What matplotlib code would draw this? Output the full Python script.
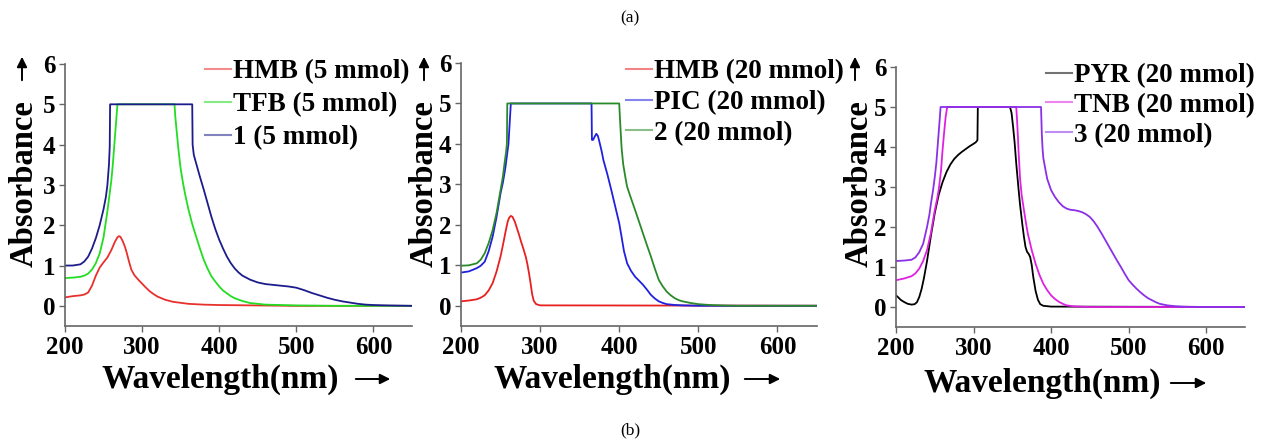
import matplotlib
matplotlib.use("Agg")
import matplotlib.pyplot as plt
from matplotlib.patches import FancyArrowPatch

# ---------------- data ----------------
# Panel 1
wl1_hmb = [200, 210, 220, 225, 230, 235, 240, 245, 250, 255, 260, 265, 268, 270, 272, 275, 278, 280, 283, 286, 290, 295, 300, 305, 310, 315, 320, 330, 340, 360, 380, 400, 450, 500, 650]
a1_hmb = [0.21, 0.24, 0.26, 0.28, 0.33, 0.50, 0.75, 0.95, 1.08, 1.20, 1.38, 1.60, 1.70, 1.73, 1.71, 1.60, 1.45, 1.32, 1.10, 0.90, 0.76, 0.65, 0.55, 0.45, 0.36, 0.29, 0.23, 0.15, 0.10, 0.05, 0.03, 0.02, 0.01, 0.0, 0.0]
wl1_tfb = [200, 210, 220, 225, 230, 235, 240, 245, 250, 255, 258, 260, 262, 264, 266, 268, 342, 343, 345, 347, 350, 353, 356, 360, 365, 370, 375, 380, 385, 390, 395, 400, 405, 410, 415, 420, 430, 440, 450, 460, 480, 500, 550, 650]
a1_tfb = [0.69, 0.70, 0.72, 0.75, 0.80, 0.90, 1.06, 1.30, 1.70, 2.35, 2.80, 3.10, 3.50, 4.00, 4.50, 5.0, 5.0, 4.70, 4.30, 3.90, 3.40, 3.05, 2.75, 2.40, 2.03, 1.72, 1.42, 1.14, 0.92, 0.73, 0.60, 0.48, 0.38, 0.31, 0.24, 0.19, 0.12, 0.07, 0.05, 0.03, 0.02, 0.01, 0.0, 0.0]
wl1_c1 = [200, 210, 220, 225, 230, 235, 240, 245, 250, 253, 255, 257, 258, 258.5, 365, 365.5, 367, 370, 375, 380, 385, 390, 395, 400, 405, 410, 415, 420, 425, 430, 435, 440, 450, 460, 470, 480, 490, 500, 510, 520, 530, 540, 550, 560, 570, 580, 590, 600, 620, 650]
a1_c1 = [1.0, 1.0, 1.03, 1.10, 1.22, 1.42, 1.68, 2.00, 2.40, 2.70, 3.00, 3.50, 3.95, 5.0, 5.0, 4.0, 3.75, 3.54, 3.20, 2.88, 2.54, 2.20, 1.90, 1.64, 1.42, 1.22, 1.06, 0.93, 0.83, 0.75, 0.70, 0.65, 0.58, 0.54, 0.52, 0.50, 0.48, 0.45, 0.39, 0.32, 0.26, 0.20, 0.15, 0.11, 0.08, 0.05, 0.03, 0.02, 0.01, 0.0]

# Panel 2
wl2_hmb = [200, 210, 220, 225, 230, 235, 240, 245, 250, 253, 256, 259, 261, 263, 265, 268, 270, 273, 276, 279, 282, 284, 286, 288, 290, 292, 295, 300, 650]
a2_hmb = [0.11, 0.13, 0.16, 0.20, 0.26, 0.38, 0.56, 0.85, 1.22, 1.50, 1.80, 2.08, 2.18, 2.22, 2.20, 2.08, 1.96, 1.78, 1.58, 1.40, 1.20, 1.02, 0.80, 0.55, 0.28, 0.12, 0.04, 0.01, 0.0]
wl2_pic = [200, 210, 220, 225, 230, 235, 240, 245, 250, 253, 256, 258, 260, 262, 263, 365, 365.5, 367, 369, 371, 373, 375, 378, 380, 385, 390, 395, 400, 403, 406, 410, 415, 420, 425, 430, 435, 440, 445, 450, 455, 460, 470, 480, 500, 650]
a2_pic = [0.82, 0.85, 0.93, 0.99, 1.09, 1.35, 1.71, 2.20, 2.78, 3.05, 3.40, 3.70, 4.00, 4.67, 5.0, 5.0, 4.10, 4.10, 4.18, 4.25, 4.20, 4.05, 3.80, 3.60, 3.25, 2.86, 2.45, 2.04, 1.70, 1.35, 1.05, 0.86, 0.72, 0.62, 0.52, 0.40, 0.27, 0.18, 0.11, 0.07, 0.04, 0.02, 0.01, 0.0, 0.0]
wl2_c2 = [200, 210, 220, 225, 230, 235, 240, 245, 250, 253, 255, 257, 258, 258.5, 400, 401, 403, 405, 408, 410, 415, 420, 425, 430, 435, 440, 445, 450, 455, 460, 465, 470, 475, 480, 490, 500, 510, 520, 535, 550, 650]
a2_c2 = [0.99, 1.0, 1.05, 1.14, 1.30, 1.55, 1.87, 2.30, 2.86, 3.20, 3.52, 3.80, 4.00, 5.0, 5.0, 4.60, 3.90, 3.50, 3.15, 2.94, 2.65, 2.37, 2.08, 1.79, 1.50, 1.22, 0.92, 0.64, 0.48, 0.35, 0.26, 0.19, 0.14, 0.11, 0.07, 0.04, 0.025, 0.015, 0.005, 0.0, 0.0]

# Panel 3
wl3_pyr = [200, 203, 206, 210, 215, 220, 224, 227, 230, 233, 236, 240, 245, 250, 255, 260, 265, 270, 275, 280, 285, 290, 295, 300, 303, 305, 305.5, 347, 349, 351, 353, 355, 358, 360, 363, 365, 367, 369, 371, 373, 375, 377, 380, 383, 386, 390, 400, 650]
a3_pyr = [0.29, 0.24, 0.18, 0.13, 0.08, 0.06, 0.07, 0.12, 0.25, 0.45, 0.72, 1.15, 1.78, 2.35, 2.80, 3.12, 3.37, 3.56, 3.70, 3.80, 3.88, 3.95, 4.02, 4.08, 4.12, 4.17, 5.0, 5.0, 4.85, 4.50, 4.10, 3.60, 2.95, 2.55, 2.05, 1.75, 1.50, 1.38, 1.33, 1.25, 1.05, 0.75, 0.40, 0.18, 0.07, 0.03, 0.01, 0.0]
wl3_tnb = [200, 210, 220, 225, 230, 235, 240, 245, 250, 253, 255, 258, 260, 262, 264, 266, 355, 356, 357, 358, 360, 362, 365, 368, 370, 375, 380, 385, 390, 395, 400, 405, 410, 415, 420, 430, 450, 650]
a3_tnb = [0.67, 0.71, 0.77, 0.84, 0.96, 1.15, 1.42, 1.85, 2.42, 2.70, 2.92, 3.40, 3.92, 4.35, 4.75, 5.0, 5.0, 4.70, 4.33, 3.90, 3.20, 2.80, 2.42, 2.05, 1.83, 1.42, 1.08, 0.80, 0.58, 0.42, 0.29, 0.20, 0.13, 0.08, 0.04, 0.015, 0.0, 0.0]
wl3_c3 = [200, 210, 220, 225, 230, 235, 240, 243, 245, 248, 250, 252, 254, 256, 257.5, 387, 388, 389, 390, 393, 395, 400, 405, 410, 415, 420, 425, 430, 435, 440, 445, 450, 455, 460, 465, 470, 475, 480, 485, 490, 495, 500, 505, 510, 515, 520, 525, 530, 535, 540, 545, 550, 560, 570, 580, 600, 650]
a3_c3 = [1.15, 1.16, 1.18, 1.24, 1.37, 1.58, 2.00, 2.30, 2.58, 2.95, 3.25, 3.60, 4.10, 4.60, 5.0, 5.0, 4.33, 3.95, 3.72, 3.40, 3.20, 2.92, 2.75, 2.62, 2.52, 2.46, 2.43, 2.42, 2.40, 2.37, 2.32, 2.25, 2.14, 2.00, 1.84, 1.67, 1.50, 1.33, 1.16, 1.00, 0.83, 0.67, 0.56, 0.46, 0.37, 0.29, 0.22, 0.17, 0.12, 0.08, 0.06, 0.04, 0.02, 0.01, 0.005, 0.0, 0.0]

labels1 = ["HMB (5 mmol)", "TFB (5 mmol)", "1 (5 mmol)"]
labels2 = ["HMB (20 mmol)", "PIC (20 mmol)", "2 (20 mmol)"]
labels3 = ["PYR (20 mmol)", "TNB (20 mmol)", "3 (20 mmol)"]
xticks = [200, 300, 400, 500, 600]
yticks = [0, 1, 2, 3, 4, 5, 6]

# ---------------- figure ----------------
plt.rcParams["font.family"] = "serif"
plt.rcParams["font.serif"] = ["Liberation Serif", "Times New Roman", "DejaVu Serif"]

W, H = 1265, 443
fig = plt.figure(figsize=(W / 100, H / 100), dpi=100)


def px_rect(l, t, r, b):
    return [l / W, 1 - b / H, (r - l) / W, (b - t) / H]


panels = [
    dict(rect=px_rect(65, 64, 412, 326),
         series=[(wl1_hmb, a1_hmb, "#e8302c"), (wl1_tfb, a1_tfb, "#22dd22"), (wl1_c1, a1_c1, "#1c1c8c")],
         labels=labels1, leg=(205, 59), lsp=0.3, ylab_x=24, yarrow_x=22, xlab_cx=220, xarrow=(353, 393), xy=379),
    dict(rect=px_rect(461, 63, 817, 326),
         series=[(wl2_hmb, a2_hmb, "#e82020"), (wl2_pic, a2_pic, "#2020e0"), (wl2_c2, a2_c2, "#2a8a2a")],
         labels=labels2, leg=(626, 59), lsp=0.22, ylab_x=424, yarrow_x=424, xlab_cx=612, xarrow=(742, 783), xy=379),
    dict(rect=px_rect(896, 67, 1245, 327),
         series=[(wl3_pyr, a3_pyr, "black"), (wl3_tnb, a3_tnb, "#e020e0"), (wl3_c3, a3_c3, "#8a30e8")],
         labels=labels3, leg=(1046, 63), lsp=0.18, ylab_x=859, yarrow_x=855, xlab_cx=1042, xarrow=(1168, 1209), xy=383),
]

for p in panels:
    ax = fig.add_axes(p["rect"])
    handles = []
    for (x, y, c), lab in zip(p["series"], p["labels"]):
        h, = ax.plot(x, y, color=c, lw=1.3, label=lab)
        handles.append(h)
    ax.set_xlim(200, 650)
    ax.set_ylim(-0.5, 6)
    ax.set_xticks(xticks)
    ax.set_yticks(yticks)
    for s in ["top", "right"]:
        ax.spines[s].set_visible(False)
    for s in ["left", "bottom"]:
        ax.spines[s].set_color("#666666")
        ax.spines[s].set_linewidth(1.2)
    ax.tick_params(direction="out", length=4, width=1, color="#666666", labelsize=18, pad=3)
    for t in ax.get_xticklabels() + ax.get_yticklabels():
        t.set_fontweight("bold")
    lx, ly = p["leg"]
    leg = ax.legend(handles=handles, loc="upper left", bbox_to_anchor=(lx / W, 1 - ly / H),
                    bbox_transform=fig.transFigure, frameon=False, borderpad=0, borderaxespad=0,
                    handlelength=0.95, handletextpad=0.1, labelspacing=p["lsp"],
                    prop=dict(weight="bold", size=19.5))
    for lh in leg.get_lines():
        lh.set_alpha(0.55)
        lh.set_linewidth(1.5)
    # y label with arrow
    fig.text(p["ylab_x"] / W, 1 - 184 / H, "Absorbance", rotation=90, ha="center", va="center",
             fontsize=23.5, fontweight="bold")
    ax_x = p["yarrow_x"] / W
    fig.add_artist(FancyArrowPatch(
        (ax_x, 1 - 83 / H), (ax_x, 1 - 54 / H), transform=fig.transFigure,
        arrowstyle="-|>", mutation_scale=15, color="black", lw=1.4))
    # x label with arrow
    fig.text(p["xlab_cx"] / W, 1 - p["xy"] / H, "Wavelength(nm)", ha="center", va="center",
             fontsize=24, fontweight="bold")
    x0, x1 = p["xarrow"]
    fig.add_artist(FancyArrowPatch(
        (x0 / W, 1 - p["xy"] / H), (x1 / W, 1 - p["xy"] / H), transform=fig.transFigure,
        arrowstyle="-|>", mutation_scale=15, color="black", lw=1.4))

fig.text(630 / W, 1 - 18 / H, "(a)", ha="center", va="center", fontsize=12.5)
fig.text(630 / W, 1 - 430 / H, "(b)", ha="center", va="center", fontsize=12.5)

fig.savefig("out.png", dpi=100)
